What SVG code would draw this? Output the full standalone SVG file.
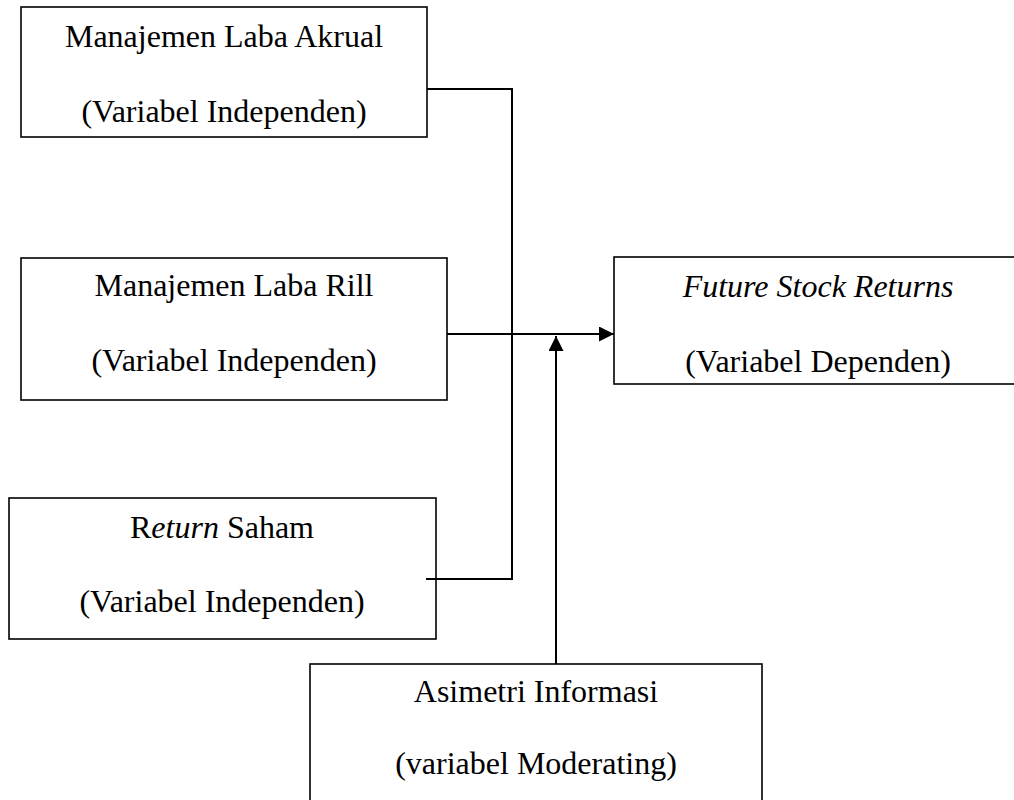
<svg xmlns="http://www.w3.org/2000/svg" width="1014" height="800" viewBox="0 0 1014 800">
<style>
.box{fill:#fff;stroke:#000;stroke-width:1.6}
.t{font-family:"Liberation Serif","Times New Roman",serif;font-size:32px;fill:#000;text-anchor:middle}
.i{font-style:italic}
.c{fill:none;stroke:#000;stroke-width:2}
</style>
<defs>
<marker id="ah" markerWidth="16" markerHeight="16" refX="15" refY="7.5" orient="auto" markerUnits="userSpaceOnUse">
<path d="M0,0 L15,7.5 L0,15 Z" fill="#000"/>
</marker>
</defs>
<rect width="1014" height="800" fill="#fff"/>
<g id="n1">
<rect class="box" x="21" y="7" width="406" height="130"/>
<text class="t" x="224" y="47">Manajemen Laba Akrual</text>
<text class="t" x="224" y="122">(Variabel Independen)</text>
</g>
<g id="n2">
<rect class="box" x="21" y="258" width="426" height="142"/>
<text class="t" x="234" y="296">Manajemen Laba Rill</text>
<text class="t" x="234" y="371">(Variabel Independen)</text>
</g>
<g id="n3">
<rect class="box" x="9" y="498" width="427" height="141"/>
<text class="t" x="222" y="538">R<tspan class="i">eturn</tspan> Saham</text>
<text class="t" x="222" y="612">(Variabel Independen)</text>
</g>
<g id="n4">
<rect class="box" x="614" y="257" width="420" height="127"/>
<text class="t" x="818" y="297"><tspan class="i">Future Stock Returns</tspan></text>
<text class="t" x="818" y="372">(Variabel Dependen)</text>
</g>
<g id="n5">
<rect class="box" x="310" y="664" width="452" height="160"/>
<text class="t" x="536" y="702">Asimetri Informasi</text>
<text class="t" x="536" y="774">(variabel Moderating)</text>
</g>
<g id="connectors">
<polyline class="c" points="427,89 512,89 512,579 426,579"/>
<line class="c" x1="447" y1="334" x2="614" y2="334" marker-end="url(#ah)"/>
<line class="c" x1="556" y1="664" x2="556" y2="336" marker-end="url(#ah)"/>
</g>
</svg>
